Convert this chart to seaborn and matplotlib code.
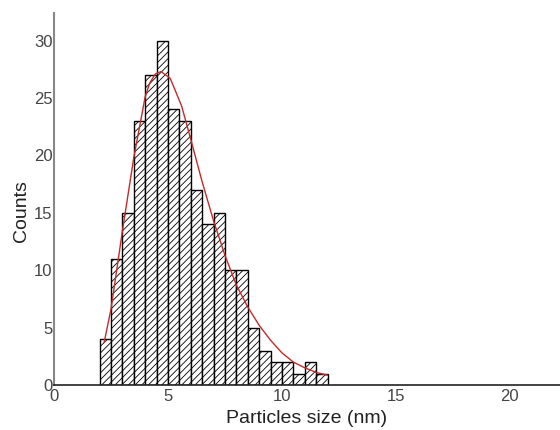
import numpy as np
import pandas as pd
import matplotlib
matplotlib.use("Agg")
import matplotlib.pyplot as plt
import seaborn as sns

# Histogram data: bin edges (nm) and counts per bin
bin_edges = [2.0, 2.5, 3.0, 3.5, 4.0, 4.5, 5.0, 5.5, 6.0, 6.5, 7.0,
             7.5, 8.0, 8.5, 9.0, 9.5, 10.0, 10.5, 11.0, 11.5, 12.0]
counts = [4, 11, 15, 23, 27, 30, 24, 23, 17, 14, 15, 10, 10, 5, 3, 2, 2, 1, 2, 1]

# Fitted curve, points
curve_x = [2.2, 2.5, 3.0, 3.5, 4.0, 4.2, 4.45, 4.7, 5.1, 5.6, 6.0, 6.5, 7.0, 7.5,
           8.0, 8.5, 9.0, 9.5, 10.0, 10.5, 11.0, 11.5, 12.0]
curve_y = [3.7, 6.6, 13.4, 19.8, 25.1, 26.3, 27.1, 27.3, 26.7, 24.3, 21.4, 17.7,
           14.3, 11.3, 8.7, 6.8, 5.2, 3.9, 2.8, 2.0, 1.5, 1.1, 0.85]

x_ticks = [0, 5, 10, 15, 20]
y_ticks = [0, 5, 10, 15, 20, 25, 30]
x_label = "Particles size (nm)"
y_label = "Counts"

sns.set_theme(style="white")
plt.rcParams['font.family'] = ['Liberation Sans', 'DejaVu Sans']
plt.rcParams['hatch.linewidth'] = 0.6

fig = plt.figure(figsize=(5.6, 4.3), dpi=100)
ax = fig.add_axes([54 / 560, 45 / 430, (560 - 54) / 560, (385 - 13) / 430])

centers = [(a + b) / 2 for a, b in zip(bin_edges[:-1], bin_edges[1:])]
df = pd.DataFrame({"size": centers, "count": counts})
sns.histplot(data=df, x="size", weights="count", bins=bin_edges, ax=ax,
             color="white", edgecolor="black", linewidth=1.0, alpha=1.0)
for p in ax.patches:
    p.set_hatch("/////")
    p.set_facecolor("white")
    p.set_edgecolor("black")

sns.lineplot(x=curve_x, y=curve_y, ax=ax, color="#c42a2a", linewidth=1.0)

ax.set_xlim(0, 22.2)
ax.set_ylim(0, 32.4)
ax.set_xticks(x_ticks)
ax.set_yticks(y_ticks)
ax.set_xticklabels([str(t) for t in x_ticks])
ax.set_yticklabels([str(t) for t in y_ticks])

ax.tick_params(axis="x", length=2, width=1, pad=1, labelsize=12, colors="#444444")
ax.tick_params(axis="y", length=0, pad=1, labelsize=12, colors="#444444")
ax.set_xlabel(x_label, fontsize=14, color="#222222", labelpad=4)
ax.set_ylabel(y_label, fontsize=14, color="#222222")
ax.yaxis.set_label_coords(-0.048, 0.468)

for s in ["top", "right"]:
    ax.spines[s].set_visible(False)
ax.spines["left"].set_color("#888888")
ax.spines["left"].set_linewidth(1.5)
ax.spines["bottom"].set_color("#222222")
ax.spines["bottom"].set_linewidth(1.2)

fig.savefig("out.png", dpi=100)
